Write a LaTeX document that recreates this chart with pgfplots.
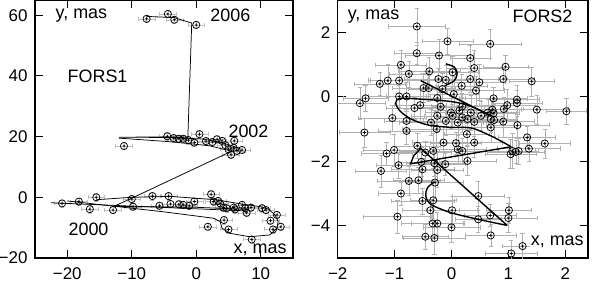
\documentclass[border=0pt]{standalone}
\usepackage{pgfplots}
\pgfplotsset{compat=1.18}
\usepackage{pgfplotstable}
\usepackage{fontspec}
\setmainfont{Liberation Sans}

\pgfdeclareplotmark{cplus}{%
  \pgfpathcircle{\pgfpointorigin}{\pgfplotmarksize}%
  \pgfpathmoveto{\pgfpoint{-0.4\pgfplotmarksize}{0pt}}\pgfpathlineto{\pgfpoint{0.4\pgfplotmarksize}{0pt}}%
  \pgfpathmoveto{\pgfpoint{0pt}{-0.4\pgfplotmarksize}}\pgfpathlineto{\pgfpoint{0pt}{0.4\pgfplotmarksize}}%
  \pgfusepathqstroke}

\pgfplotstableread{
x y
-7.7 58.8
-4.4 60.4
-3.4 58.5
0.0 56.8
-11.2 16.9
-4.5 20.1
-3.5 19.5
-2.7 19.3
-2.0 19.3
-1.2 18.8
-0.3 18.0
0.5 20.8
1.5 18.5
2.5 18.2
3.2 19.1
4.0 18.6
5.9 18.6
4.5 17.2
5.0 15.8
5.4 14.0
6.3 15.3
7.1 15.6
5.8 16.3
-20.8 -2.0
-18.2 -1.4
-15.5 0.0
-16.5 -3.9
-12.9 -4.2
-10.0 -0.6
-9.8 -3.1
-6.8 0.4
-4.3 0.4
-5.7 -2.8
-4.0 -2.2
-2.7 -2.3
-1.1 -2.8
-0.3 -1.4
-2.0 -2.5
2.3 1.0
2.7 -1.4
3.4 -1.2
3.7 -2.0
4.2 -3.4
4.7 -3.6
5.8 -3.4
6.0 -4.0
7.1 -2.5
7.6 -3.6
7.8 -5.1
8.5 -3.4
10.2 -3.6
10.8 -4.2
12.5 -5.8
11.5 -7.7
13.1 -9.7
11.9 -10.6
8.6 -13.9
5.0 -10.6
4.3 -7.5
1.8 -9.7
}\forsone

\pgfplotstableread{
x y ex ey
-0.61 2.18 0.50 0.58
-0.07 1.72 0.45 0.40
0.68 1.64 0.55 0.45
-0.61 1.35 0.40 0.35
-0.22 1.28 0.60 0.50
0.33 1.20 0.35 0.40
-0.89 0.99 0.45 0.45
0.40 0.89 0.50 0.55
0.95 0.93 0.40 0.35
-0.39 0.79 0.55 0.45
-0.75 0.71 0.35 0.40
0.02 0.76 0.45 0.50
-0.23 0.55 0.60 0.35
-0.10 0.52 0.40 0.45
0.33 0.55 0.50 0.40
0.49 0.45 0.45 0.55
0.91 0.55 0.55 0.35
1.41 0.48 0.40 0.45
-0.92 0.50 0.50 0.40
-1.12 0.50 0.35 0.50
-1.26 0.40 0.45 0.35
-0.49 0.27 0.55 0.45
-0.40 0.27 0.40 0.40
-0.16 0.24 0.60 0.50
0.18 0.34 0.45 0.35
0.43 0.19 0.50 0.45
-1.51 -0.05 0.40 0.40
-1.61 -0.20 0.45 0.50
-0.92 0.01 0.55 0.35
-0.79 0.01 0.35 0.45
-0.25 -0.04 0.50 0.40
0.04 0.08 0.45 0.55
0.74 -0.05 0.60 0.35
1.15 -0.09 0.40 0.45
1.15 -0.20 0.45 0.40
0.98 -0.26 0.50 0.50
0.92 -0.38 0.35 0.35
1.50 -0.40 0.55 0.45
2.02 -0.45 0.35 0.40
-0.55 -0.26 0.45 0.50
-0.65 -0.35 0.50 0.35
-0.19 -0.31 0.40 0.45
0.19 -0.30 0.55 0.40
0.34 -0.49 0.45 0.55
0.72 -0.40 0.50 0.35
0.74 -0.51 0.40 0.45
-1.04 -0.66 0.60 0.40
-0.25 -0.59 0.45 0.50
0.02 -0.59 0.50 0.35
-0.10 -0.75 0.40 0.45
-0.36 -0.80 0.55 0.40
0.11 -0.80 0.45 0.55
0.28 -0.69 0.35 0.35
0.40 -0.78 0.50 0.45
0.69 -0.69 0.45 0.40
0.91 -0.77 0.55 0.50
-0.79 -0.75 0.40 0.35
-1.53 -1.11 0.45 0.45
-0.79 -1.06 0.50 0.40
-0.26 -1.00 0.60 0.55
0.27 -1.16 0.40 0.35
0.69 -0.95 0.45 0.45
1.16 -0.88 0.55 0.40
-0.01 -0.49 0.45 0.50
0.14 -0.43 0.50 0.35
0.52 -0.59 0.40 0.45
0.64 -0.49 0.55 0.40
0.19 -0.64 0.45 0.45
0.75 -0.72 0.40 0.50
1.33 -1.26 0.50 0.35
1.64 -1.45 0.45 0.45
1.36 -1.61 0.55 0.40
1.07 -1.68 0.40 0.55
1.13 -1.71 0.50 0.35
1.04 -1.78 0.45 0.45
1.18 -1.68 0.35 0.40
-0.14 -1.42 0.55 0.50
0.08 -1.44 0.45 0.35
0.40 -1.42 0.50 0.45
-0.60 -1.52 0.40 0.40
-0.32 -1.68 0.60 0.55
-0.46 -1.73 0.45 0.35
0.11 -1.63 0.50 0.45
0.19 -1.68 0.40 0.40
-1.01 -1.65 0.55 0.50
-1.14 -1.76 0.45 0.35
0.28 -1.99 0.50 0.45
-0.93 -2.12 0.40 0.40
-1.24 -2.30 0.45 0.50
-0.51 -2.25 0.55 0.35
-0.53 -2.02 0.40 0.45
-0.30 -2.06 0.50 0.40
-0.25 -2.27 0.45 0.55
-0.11 -2.09 0.35 0.35
-0.75 -2.61 0.55 0.45
-0.58 -2.59 0.45 0.40
-0.29 -2.66 0.50 0.50
-0.89 -3.00 0.40 0.35
0.47 -3.08 0.45 0.45
-0.51 -3.23 0.55 0.40
-0.32 -3.21 0.40 0.55
-0.37 -3.52 0.50 0.35
0.01 -3.52 0.45 0.45
1.01 -3.52 0.40 0.40
-0.95 -3.72 0.60 0.50
0.68 -3.68 0.45 0.35
1.00 -3.76 0.50 0.45
0.47 -3.80 0.40 0.40
-0.33 -3.93 0.55 0.55
-0.25 -3.93 0.45 0.35
0.00 -4.05 0.50 0.45
-0.46 -4.34 0.40 0.40
-0.30 -4.38 0.55 0.50
0.69 -4.30 0.45 0.35
1.25 -4.63 0.35 0.40
1.05 -4.86 0.45 0.40
}\forstwo

\begin{document}
\begin{tikzpicture}
\pgfplotsset{every axis/.append style={
  scale only axis, height=258bp,
  tick align=inside, major tick length=8bp,
  axis line style={line width=1.3bp},
  every tick/.style={black, line width=1bp},
  tick label style={font=\fontsize{17}{20}\selectfont},
  xticklabel style={yshift=-6bp},
  yticklabel style={xshift=-4bp},
  clip=true}}
\path[use as bounding box] (-35bp,-24bp) rectangle (562bp,258bp);

\begin{axis}[at={(0,0)}, anchor=south west, width=258bp,
  xmin=-25, xmax=15, ymin=-20, ymax=65,
  xtick={-20,-10,0,10}, xticklabels={−20,−10,0,10},
  ytick={-20,0,20,40,60}, yticklabels={−20,0,20,40,60}]
\addplot[only marks, mark=*, mark options={draw=none,fill=none}, mark size=0.1bp,
  error bars/.cd, x dir=both, x fixed=1.3, y dir=both, y fixed=1.2,
  error bar style={gray!50, line width=0.4bp},
  error mark options={rotate=90, mark size=2bp, gray!50, line width=0.4bp}]
  table[x=x,y=y]{\forsone};
\addplot[black, line width=0.75bp, mark=none] coordinates {(-7.7,59.6) (-3.4,59.2) (-0.7,57.4) (-1.3,19.9) (-12,19.8) (-4,19.7) (1,19.2) (4,18) (6.5,16.3)};
\addplot[black, line width=0.75bp, mark=none] coordinates {(-12,19.5) (-4,18.3) (2,17) (5.5,15.2)};
\addplot[black, line width=0.75bp, mark=none] coordinates {(5.5,15.2) (-10,-0.3) (-12.8,-3.0)};
\addplot[black, line width=0.75bp, mark=none] coordinates {(-22.5,-1.8) (8,-4.5)};
\addplot[black, line width=0.75bp, mark=none] coordinates {(-15.5,-0.8) (-10,0) (-4,0.3) (3,-0.8) (7,-2.2) (10,-3.1) (11.2,-3.9) (12.2,-5.8) (12.7,-8) (12.5,-10.2) (11.4,-12.4) (8.3,-13) (5.3,-11.9) (4,-10.2) (3.7,-8) (2.7,-6.9) (-5,-4.8) (-20,-1.2)};
\addplot[black, line width=0.75bp, mark=none] coordinates {(-12.8,-3.0) (0,-3.3) (8,-4.0)};
\addplot[only marks, mark=cplus, mark size=3.6bp, mark options={black, line width=0.75bp}] table[x=x,y=y]{\forsone};
\node[font=\fontsize{18}{21}\selectfont] at (axis cs:-17.8,60) {y, mas};
\node[font=\fontsize{18}{21}\selectfont] at (axis cs:-15.3,39.8) {FORS1};
\node[font=\fontsize{18}{21}\selectfont] at (axis cs:5.3,60) {2006};
\node[font=\fontsize{18}{21}\selectfont] at (axis cs:8.1,21.6) {2002};
\node[font=\fontsize{18}{21}\selectfont] at (axis cs:-16.7,-10.6) {2000};
\node[font=\fontsize{18}{21}\selectfont] at (axis cs:9.9,-17.4) {x, mas};
\end{axis}

\begin{axis}[at={(302.7bp,0)}, anchor=south west, width=250.3bp,
  xmin=-2, xmax=2.4, ymin=-5, ymax=3,
  xtick={-2,-1,0,1,2}, xticklabels={−2,−1,0,1,2},
  ytick={-4,-2,0,2}, yticklabels={−4,−2,0,2}]
\addplot[only marks, mark=*, mark options={draw=none,fill=none}, mark size=0.1bp,
  error bars/.cd, x dir=both, x explicit, y dir=both, y explicit,
  error bar style={gray!60, line width=0.45bp},
  error mark options={rotate=90, mark size=2.2bp, gray!60, line width=0.45bp}]
  table[x=x,y=y,x error=ex,y error=ey]{\forstwo};
\addplot[black, line width=1.4bp, mark=none, smooth, tension=0.5] coordinates {(-0.1,1.02) (0.05,0.92) (0.1,0.72) (0.05,0.5) (-0.12,0.34)};
\addplot[black, line width=1.4bp, mark=none] coordinates {(-0.54,0.5) (0.7,-0.6)};
\addplot[black, line width=1.4bp, mark=none, smooth, tension=0.5] coordinates {(0.7,-0.6) (0.35,-0.3) (0,-0.15) (-0.5,-0.08) (-0.9,-0.05) (-0.98,-0.2) (-0.9,-0.45) (-0.7,-0.7) (-0.4,-0.88) (0,-0.95) (0.35,-0.97) (0.7,-1.22) (1.05,-1.55)};
\addplot[black, line width=1.4bp, mark=none] coordinates {(1.05,-1.55) (-0.72,-2.08) (-0.66,-1.82) (-0.54,-1.6) (0.98,-3.99)};
\addplot[black, line width=1.4bp, mark=none, smooth, tension=0.5] coordinates {(0.98,-3.99) (0.52,-3.82) (0,-3.6) (-0.36,-3.34) (-0.45,-3.08) (-0.42,-2.82) (-0.3,-2.64)};
\addplot[only marks, mark=cplus, mark size=3.6bp, mark options={black, line width=0.75bp}] table[x=x,y=y]{\forstwo};
\node[font=\fontsize{18}{21}\selectfont] at (axis cs:-1.37,2.5) {y, mas};
\node[font=\fontsize{18}{21}\selectfont] at (axis cs:1.6,2.5) {FORS2};
\node[font=\fontsize{18}{21}\selectfont, fill=white, inner sep=1bp] at (axis cs:1.86,-4.51) {x, mas};
\end{axis}
\end{tikzpicture}
\end{document}
